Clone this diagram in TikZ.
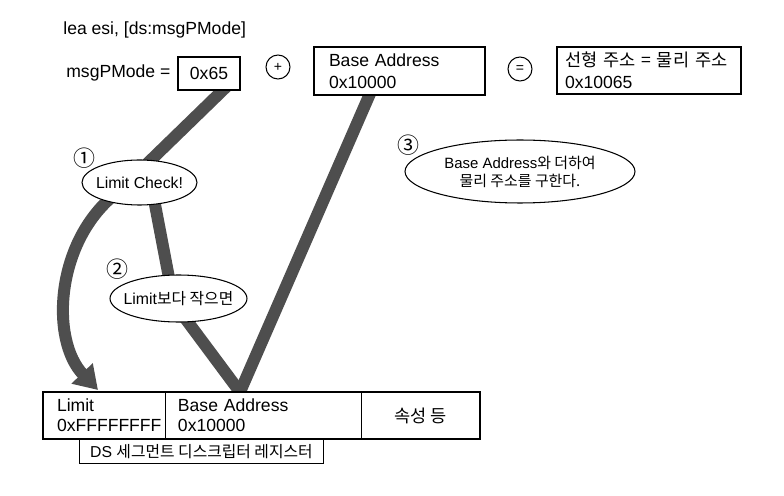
\documentclass[tikz,border=0pt]{standalone}
\usepackage{fontspec}
\setmainfont{Liberation Sans}
\newfontfamily\kr{Noto Sans CJK KR}
\usepackage{tikz}
\usetikzlibrary{calc}
\usetikzlibrary{shapes.geometric}
\usetikzlibrary{arrows.meta}
\usetikzlibrary{backgrounds}
\usetikzlibrary{positioning}
\definecolor{bandgray}{RGB}{78,78,78}

\begin{document}
\begin{tikzpicture}[x=0.02cm,y=-0.02cm,font=\fontsize{10}{12.5}\selectfont,
  box/.style={draw,line width=1.1pt,fill=white,inner sep=0pt},
  bubble/.style={draw,ellipse,fill=white,line width=0.6pt,inner xsep=-0.25cm,inner ysep=0pt,align=center},
  op/.style={draw,circle,line width=0.6pt,minimum size=0.48cm,inner sep=0pt,font=\fontsize{8}{8}\selectfont},
  num/.style={inner sep=0pt,font=\kr\fontsize{12.5}{12.5}\selectfont},
  cell/.style={draw,line width=0.5pt,fill=white,outer sep=0pt,minimum height=0.94cm,align=left,font=\fontsize{10}{11.5}\selectfont},
  band/.style={line width=0.24cm,draw=bandgray,shorten <=-0.3cm,shorten >=-0.3cm}]
  \useasboundingbox (0,0) rectangle (784,496);

  \node[anchor=west,inner sep=0pt] (cmd) at (63,30) {lea esi, [ds:msgPMode]};
  \node[anchor=west,inner sep=0pt] (msg) at (66,73) {msgPMode =};
  \node[box,minimum width=1.24cm,minimum height=0.66cm] (val) at (209,73.5) {0x65};
  \node[op] (plus) at (278,67) {+};
  \node[box,minimum height=0.96cm,text width=2.82cm,inner xsep=0.3cm,align=left] (bas) at (399.5,71) {Base Address\\0x10000};
  \node[op] (eq) at (520,69) {=};
  \node[box,minimum height=0.94cm,text width=3.36cm,inner xsep=0.16cm,align=left] (res) at (649,70.5) {\mbox{\kr 선형 주소 = 물리 주소}\\0x10065};

  \node[bubble,minimum width=2.3cm,minimum height=0.9cm,font=\fontsize{9}{9}\selectfont] (chk) at (139.5,182.5) {Limit Check!};
  \node[num] (n1) at (84,158) {①};
  \node[bubble,minimum width=2.74cm,minimum height=0.94cm,font=\fontsize{9}{9}\selectfont] (lt) at (178.5,298.5) {Limit{\kr 보다 작으면}};
  \node[num] (n2) at (117,269) {②};
  \node[bubble,minimum width=4.6cm,minimum height=1.26cm,font=\fontsize{8.5}{10.2}\selectfont] (add) at (520,171.5) {Base Address{\kr 와 더하여}\\{\kr 물리 주소를 구한다.}};
  \node[num] (n3) at (408,145) {③};

  \node[cell,text width=1.88cm,inner xsep=0.28cm] (lim) at (104,415.5) {Limit\\0xFFFFFFFF};
  \node[cell,text width=3.4cm,inner xsep=0.26cm,right=0pt of lim] (base) {Base Address\\0x10000};
  \node[cell,minimum width=2.38cm,inner sep=0pt,right=0pt of base] (attr) {\kr 속성 등};
  \draw[line width=1.1pt] (lim.north west) rectangle (attr.south east);
  \node[draw,line width=0.5pt,minimum width=4.88cm,minimum height=0.48cm,inner sep=0pt,anchor=north west,font=\fontsize{9}{9}\selectfont] (dslbl) at ([xshift=0.72cm]lim.south west) {DS {\kr 세그먼트 디스크립터 레지스터}};

  \coordinate (apex) at ([xshift=1.5cm]base.north west);
  \coordinate (tip) at ([xshift=1.1cm,yshift=0.04cm]lim.north west);

  \begin{scope}[on background layer]
    \draw[band] ([xshift=0.26cm]val.south) -- (chk.63);
    \draw[band] (chk.-55) -- (lt.113);
    \draw[band] (lt.-68) -- (apex);
    \draw[band] ([xshift=-0.61cm]bas.south) -- (apex);
    \draw[band,shorten >=0pt,-{Triangle[length=0.46cm,width=0.56cm]}] (chk.209) .. controls (55,240) and (50,340) .. (tip);
  \end{scope}
\end{tikzpicture}
\end{document}
